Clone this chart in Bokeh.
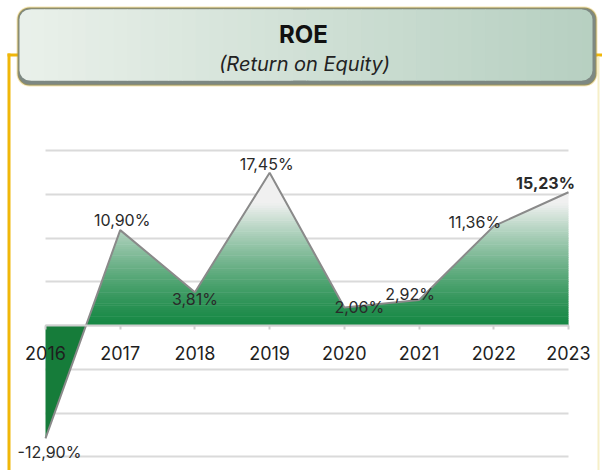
from bokeh.plotting import figure
from bokeh.models import (ColumnDataSource, FixedTicker, BoxAnnotation, Label,
                          LinearAxis, Grid, Range1d)
from bokeh.embed import file_html
from bokeh.resources import INLINE

# ---------------- data ----------------
years = [2016, 2017, 2018, 2019, 2020, 2021, 2022, 2023]
year_labels = ["2016", "2017", "2018", "2019", "2020", "2021", "2022", "2023"]
roe = [-12.90, 10.90, 3.81, 17.45, 2.06, 2.92, 11.36, 15.23]
grid_levels = [-15, -10, -5, 0, 5, 10, 15, 20]
title_main = "ROE"
title_sub = "(Return on Equity)"

# ---------------- styling / layout ----------------
W, H = 602, 470
PX_YEAR = 74.714          # pixels per year
PX_PCT = 8.75             # pixels per percentage point
ZERO_Y = 325              # canvas y of the zero line
FIRST_X = 45              # canvas x of the first year

def X(px):
    return years[0] + (px - FIRST_X) / PX_YEAR

def Y(py):
    return (ZERO_Y - py) / PX_PCT

FONT = "Inter"

p = figure(width=W, height=H, x_range=Range1d(X(0), X(W)),
           y_range=Range1d(Y(H), Y(0)), x_axis_type=None, y_axis_type=None,
           toolbar_location=None, output_backend="svg", min_border=0)
p.outline_line_color = None
p.background_fill_color = "white"
p.border_fill_color = "white"

# grid lines
grid = Grid(dimension=1, ticker=FixedTicker(ticks=grid_levels),
            bounds=(min(grid_levels), max(grid_levels)),
            cross_bounds=(years[0], years[-1]),
            grid_line_color="#dadada", grid_line_width=2)
p.add_layout(grid, "center")

# ---------------- area geometry ----------------
def clip(poly, level, keep_above):
    out = []
    n = len(poly)
    def inside(pt):
        return pt[1] >= level if keep_above else pt[1] <= level
    for i in range(n):
        cur = poly[i]
        prev = poly[i - 1]
        cin, pin = inside(cur), inside(prev)
        if cin:
            if not pin:
                t = (level - prev[1]) / (cur[1] - prev[1])
                out.append((prev[0] + t * (cur[0] - prev[0]), level))
            out.append(cur)
        elif pin:
            t = (level - prev[1]) / (cur[1] - prev[1])
            out.append((prev[0] + t * (cur[0] - prev[0]), level))
    return out

poly = [(years[0], 0.0)] + list(zip(years, roe)) + [(years[-1], 0.0)]

# negative part
neg = clip(poly, 0.0, keep_above=False)
if len(neg) >= 3:
    p.patch([q[0] for q in neg], [q[1] for q in neg], fill_color="#167c3a",
            line_color=None)

# positive part, gradient bands
green = (22, 136, 68)
light = (240, 240, 240)
def grad(v):
    t = max(0.0, min(1.0, v / 14.0)) ** 1.3
    c = [int(round(g + t * (l - g))) for g, l in zip(green, light)]
    return "#%02x%02x%02x" % tuple(c)

top = max(roe)
nb = 70
xs, ys, cols = [], [], []
for i in range(nb):
    a = top * i / nb
    b = top * (i + 1) / nb + 0.06
    piece = clip(clip(poly, a, True), b, False)
    if len(piece) >= 3:
        xs.append([q[0] for q in piece])
        ys.append([q[1] for q in piece])
        cols.append(grad((a + b) / 2))
p.patches(xs, ys, fill_color=cols, line_color=None)

# line
p.line(years, roe, line_color="#8a8a8a", line_width=2)

# x axis at zero
xaxis = LinearAxis(fixed_location=0, ticker=FixedTicker(ticks=years),
                   bounds=(years[0], years[-1]),
                   major_label_overrides={y: l for y, l in zip(years, year_labels)},
                   axis_line_color="#cfcfcf", axis_line_width=2,
                   major_tick_line_color="#cfcfcf", major_tick_line_width=2,
                   major_tick_in=0, major_tick_out=4,
                   minor_tick_line_color=None,
                   major_label_text_font=FONT, major_label_text_font_size="18px",
                   major_label_text_color="#1e1e1e", major_label_standoff=16)
p.add_layout(xaxis, "below")

# data labels
labels = [(f"{v:.2f}".replace(".", ",") + "%") for v in roe]
label_dx = [4, 2, 0, -3, 15, -9, -19, -23]
label_dy = [14, -10, 7, -9, 0, -6, -4, -9]
label_style = ["normal"] * (len(roe) - 1) + ["bold"]
src = ColumnDataSource(dict(x=years, y=roe, t=labels, dx=label_dx,
                            dy=label_dy, s=label_style))
p.text(x="x", y="y", text="t", x_offset="dx", y_offset="dy",
       text_font_style="s", source=src, text_align="center",
       text_baseline="middle", text_font_size="16px", text_color="#2a2a2a",
       text_font={"value": FONT})

# ---------------- decorations ----------------
gold = "#f0b70a"
p.add_layout(BoxAnnotation(left=X(7), right=X(10), top=Y(53), bottom=Y(480),
                           fill_color=gold, fill_alpha=1, line_color=None))
p.add_layout(BoxAnnotation(left=X(7), right=X(20), top=Y(53), bottom=Y(56),
                           fill_color=gold, fill_alpha=1, line_color=None))
p.add_layout(BoxAnnotation(left=X(585), right=X(605), top=Y(53), bottom=Y(56),
                           fill_color=gold, fill_alpha=1, line_color=None))
p.add_layout(BoxAnnotation(left=X(597), right=X(599), top=Y(56), bottom=Y(480),
                           fill_color="#f6efc8", fill_alpha=1, line_color=None))

# title box: gold outline with grey shadow
p.add_layout(BoxAnnotation(left=X(17), right=X(596), top=Y(7), bottom=Y(85),
                           fill_color="#7d8882", fill_alpha=1,
                           line_color="#e2b10c", line_width=2, border_radius=12))
left_c = (233, 240, 234)
right_c = (183, 208, 193)
def mix(t):
    return "#%02x%02x%02x" % tuple(int(round(a + t * (b - a))) for a, b in zip(left_c, right_c))
p.add_layout(BoxAnnotation(left=X(19), right=X(300), top=Y(9), bottom=Y(80),
                           fill_color=mix(0), fill_alpha=1, line_color=None,
                           border_radius=10))
p.add_layout(BoxAnnotation(left=X(300), right=X(592), top=Y(9), bottom=Y(80),
                           fill_color=mix(1), fill_alpha=1, line_color=None,
                           border_radius=10))
ns = 40
x0s, x1s = 30, 581
for i in range(ns):
    l = x0s + (x1s - x0s) * i / ns
    r = x0s + (x1s - x0s) * (i + 1) / ns + 0.6
    p.add_layout(BoxAnnotation(left=X(l), right=X(r), top=Y(9), bottom=Y(80),
                               fill_color=mix((i + 0.5) / ns), fill_alpha=1,
                               line_color=None))

p.add_layout(Label(x=X(303), y=Y(34), text=title_main, text_align="center",
                   text_baseline="middle", text_font=FONT, text_font_style="bold",
                   text_font_size="24px", text_color="#111111"))
p.add_layout(Label(x=X(304), y=Y(63), text=title_sub, text_align="center",
                   text_baseline="middle", text_font=FONT, text_font_style="italic",
                   text_font_size="20px", text_color="#222222"))

open("out.html", "w").write(file_html(p, INLINE))
